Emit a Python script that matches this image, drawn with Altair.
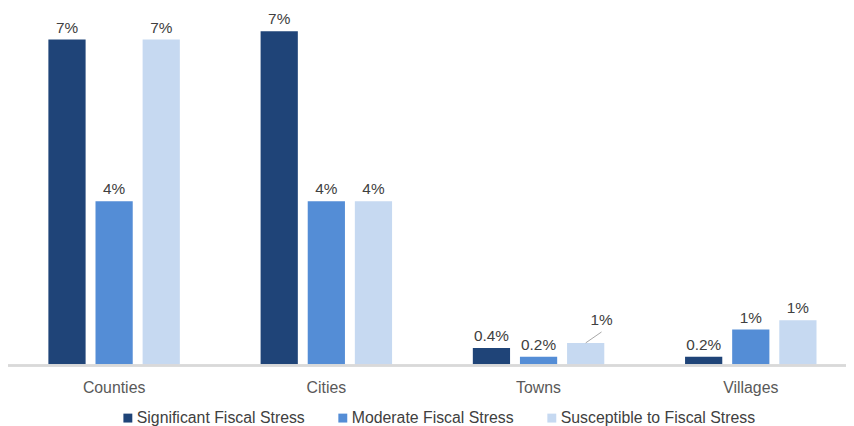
import altair as alt
import pandas as pd

categories = ["Counties", "Cities", "Towns", "Villages"]
series = ["Significant Fiscal Stress", "Moderate Fiscal Stress", "Susceptible to Fiscal Stress"]
significant = [7.04, 7.22, 0.38, 0.19]
moderate = [3.55, 3.55, 0.19, 0.78]
susceptible = [7.04, 3.55, 0.49, 0.98]
significant_labels = ["7%", "7%", "0.4%", "0.2%"]
moderate_labels = ["4%", "4%", "0.2%", "1%"]
susceptible_labels = ["7%", "4%", "1%", "1%"]
colors = ["#1f4478", "#548dd6", "#c6d9f1"]

rows = []
for vals, labs, s in zip([significant, moderate, susceptible],
                         [significant_labels, moderate_labels, susceptible_labels], series):
    for c, v, l in zip(categories, vals, labs):
        rows.append({"cat": c, "series": s, "value": v, "label": l})
df = pd.DataFrame(rows)

FONT = "Liberation Sans"

x = alt.X("cat:N", sort=categories, title=None,
          scale=alt.Scale(paddingInner=0, paddingOuter=0),
          axis=alt.Axis(labelAngle=0, ticks=False, domain=False, labelFontSize=16,
                        labelColor="#595959", labelFont=FONT, labelPadding=14))
xo = alt.XOffset("series:N", sort=series,
                 scale=alt.Scale(paddingInner=0.21, paddingOuter=0.857))
y = alt.Y("value:Q", scale=alt.Scale(domain=[0, 7.68], nice=False), axis=None)

base = alt.Chart(df).encode(x=x, xOffset=xo, y=y)

bars = base.mark_bar().encode(
    color=alt.Color("series:N", sort=series,
                    scale=alt.Scale(domain=series, range=colors),
                    legend=alt.Legend(title=None, orient="none", legendX=113, legendY=404,
                                      direction="horizontal", symbolType="square",
                                      symbolSize=81, labelFontSize=16, labelFont=FONT,
                                      labelColor="#404040", columnPadding=30,
                                      labelOffset=1, symbolStrokeWidth=0, labelLimit=0))
)

is_special = "datum.cat == 'Towns' && datum.series == 'Susceptible to Fiscal Stress'"

labels = base.transform_filter("!(" + is_special + ")").mark_text(
    baseline="alphabetic", dy=-7, fontSize=15.5, font=FONT, color="#404040"
).encode(text="label:N")

special_label = base.transform_filter(is_special).mark_text(
    baseline="alphabetic", dx=16, dy=-18, fontSize=15.5, font=FONT, color="#404040"
).encode(text="label:N")

leader = base.transform_filter(is_special).mark_point(
    shape="M0,0L1,-0.69", filled=False, size=1024, stroke="#a6a6a6", strokeWidth=1,
    opacity=1
)

baseline = alt.Chart(df).mark_rule(color="#d9d9d9", strokeWidth=1.5).encode(
    x=alt.value(0), x2=alt.value(846), y=alt.value(359)
)

chart = alt.layer(bars, baseline, labels, special_label, leader).properties(
    width=857, height=359,
    padding={"left": 0, "top": 0, "right": -11, "bottom": 59},
    autosize=alt.AutoSizeParams(type="none")
).configure_view(stroke=None)

chart.save("out.html", embed_options={"renderer": "svg", "actions": False})
